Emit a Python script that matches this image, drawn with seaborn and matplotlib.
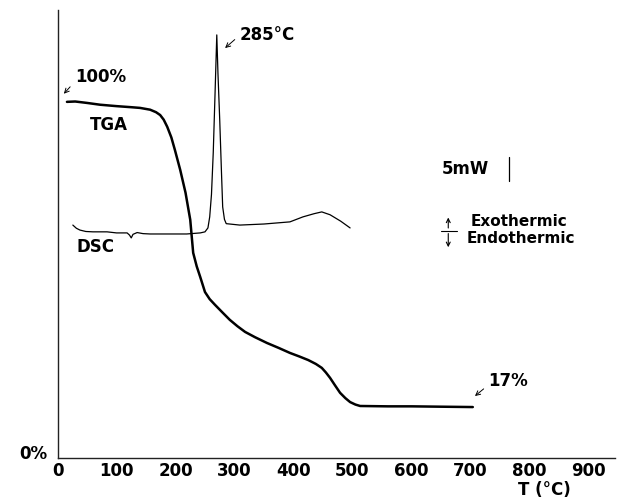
import matplotlib
matplotlib.use("Agg")
import matplotlib.pyplot as plt
import seaborn as sns
import pandas as pd

# ---- data ----
tga_T = [16, 30, 50, 72, 100, 125, 140, 157, 167, 174, 180, 186, 193, 199,
         208, 217, 225, 230, 236, 242, 250, 258, 267, 280, 292, 305, 318,
         335, 355, 375, 394, 410, 425, 438, 448, 455, 462, 470, 479, 488,
         496, 505, 513, 560, 600, 650, 704]
tga_mass = [100, 100.1, 99.7, 99.2, 98.8, 98.5, 98.3, 97.8, 97.1, 96.3, 95.0,
            93.0, 90.0, 86.5, 80.9, 74.5, 66.9, 57.6, 53.8, 50.8, 46.6, 44.6,
            43.0, 40.8, 38.8, 37.0, 35.4, 33.9, 32.3, 30.9, 29.5, 28.5, 27.5,
            26.4, 25.3, 24.0, 22.5, 20.5, 18.3, 16.8, 15.7, 15.0, 14.6, 14.5,
            14.5, 14.4, 14.3]

dsc_T = [26, 32, 38, 48, 60, 84, 100, 118, 122, 125, 128, 135, 145, 157,
         190, 219, 242, 250, 255, 258, 261, 264, 267, 270, 272, 275, 278,
         280, 283, 286, 309, 350, 394, 416, 435, 448, 462, 480, 496]
dsc_signal = [65.4, 64.5, 64.0, 63.6, 63.5, 63.5, 63.2, 63.2, 62.6, 61.8,
              62.8, 63.3, 63.0, 62.9, 62.9, 62.9, 63.2, 63.5, 64.6, 67.7,
              74.0, 85.7, 102.0, 118.8, 108.0, 94.9, 80.0, 70.5, 67.0, 65.8,
              65.4, 65.7, 66.3, 67.7, 68.6, 69.1, 68.3, 66.5, 64.6]

x_ticks = [0, 100, 200, 300, 400, 500, 600, 700, 800, 900]
x_tick_labels = [str(v) for v in x_ticks]

tga = pd.DataFrame({"T": tga_T, "mass": tga_mass})
dsc = pd.DataFrame({"T": dsc_T, "signal": dsc_signal})

sns.set_style("white")
plt.rcParams["font.family"] = ["DejaVu Sans"]
plt.rcParams["font.weight"] = "bold"
plt.rcParams["text.color"] = "black"
plt.rcParams["xtick.color"] = "black"
plt.rcParams["ytick.color"] = "black"

fig = plt.figure(figsize=(6.21, 4.99), dpi=100)
ax = fig.add_axes([0.0926, 0.0822, 0.8977, 0.8978])

sns.lineplot(data=tga, x="T", y="mass", ax=ax, color="black", lw=1.8,
             sort=False, estimator=None)
sns.lineplot(data=dsc, x="T", y="signal", ax=ax, color="black", lw=0.9,
             sort=False, estimator=None)

ax.set_xlim(0, 945)
ax.set_ylim(0, 125.8)
ax.set_xlabel("")
ax.set_ylabel("")

for s in ["top", "right"]:
    ax.spines[s].set_visible(False)
for s in ["left", "bottom"]:
    ax.spines[s].set_color("#222222")
    ax.spines[s].set_linewidth(1.0)

fs = 12
ax.set_xticks(x_ticks)
ax.set_xticklabels(x_tick_labels, fontsize=fs, fontweight="bold")
ax.set_xticks(range(50, 950, 100), minor=True)
ax.tick_params(axis="x", which="major", direction="in", length=5, width=0.9,
               pad=3)
ax.tick_params(axis="x", which="minor", direction="in", length=2, width=0.8)
ax.set_yticks([100])
ax.set_yticklabels([""])
ax.tick_params(axis="y", which="major", direction="inout", length=8, width=0.8)

ax.text(-17, 1.0, "0%", ha="right", va="center", fontsize=fs, fontweight="bold",
        clip_on=False)
fig.text(544 / 621, 1 - 490 / 499, "T (°C)", ha="center", va="center",
         fontsize=fs, fontweight="bold")

ax.text(29.7, 107, "100%", ha="left", va="center", fontsize=fs, fontweight="bold")
ax.text(55, 93.4, "TGA", ha="left", va="center", fontsize=fs, fontweight="bold")
ax.text(33, 59.3, "DSC", ha="left", va="center", fontsize=fs, fontweight="bold")
ax.text(309, 118.7, "285°C", ha="left", va="center", fontsize=fs, fontweight="bold")
ax.text(729.7, 21.6, "17%", ha="left", va="center", fontsize=fs, fontweight="bold")
ax.text(651, 81.2, "5mW", ha="left", va="center", fontsize=fs, fontweight="bold")
ax.text(700, 66.4, "Exothermic", ha="left", va="center", fontsize=11, fontweight="bold")
ax.text(693.6, 61.6, "Endothermic", ha="left", va="center", fontsize=11, fontweight="bold")

arrow = dict(arrowstyle="->", lw=0.7, color="black", mutation_scale=8)
ax.annotate("", xy=(7.6, 101.7), xytext=(24.6, 104.8), arrowprops=arrow)
ax.annotate("", xy=(280.5, 114.6), xytext=(304, 118), arrowprops=arrow)
ax.annotate("", xy=(704, 16.9), xytext=(726, 19.9), arrowprops=arrow)

# scale bar and exo/endo indicator
ax.plot([765, 765], [77.8, 84.6], color="black", lw=0.9)
ax.annotate("", xy=(662.4, 68.3), xytext=(662.4, 63.8),
            arrowprops=dict(arrowstyle="->", lw=0.8, color="black", mutation_scale=7))
ax.annotate("", xy=(662.4, 58.4), xytext=(662.4, 63.8),
            arrowprops=dict(arrowstyle="->", lw=0.8, color="black", mutation_scale=7))
ax.plot([649.5, 676.6], [63.8, 63.8], color="black", lw=0.8)

fig.savefig("out.png", dpi=100)
